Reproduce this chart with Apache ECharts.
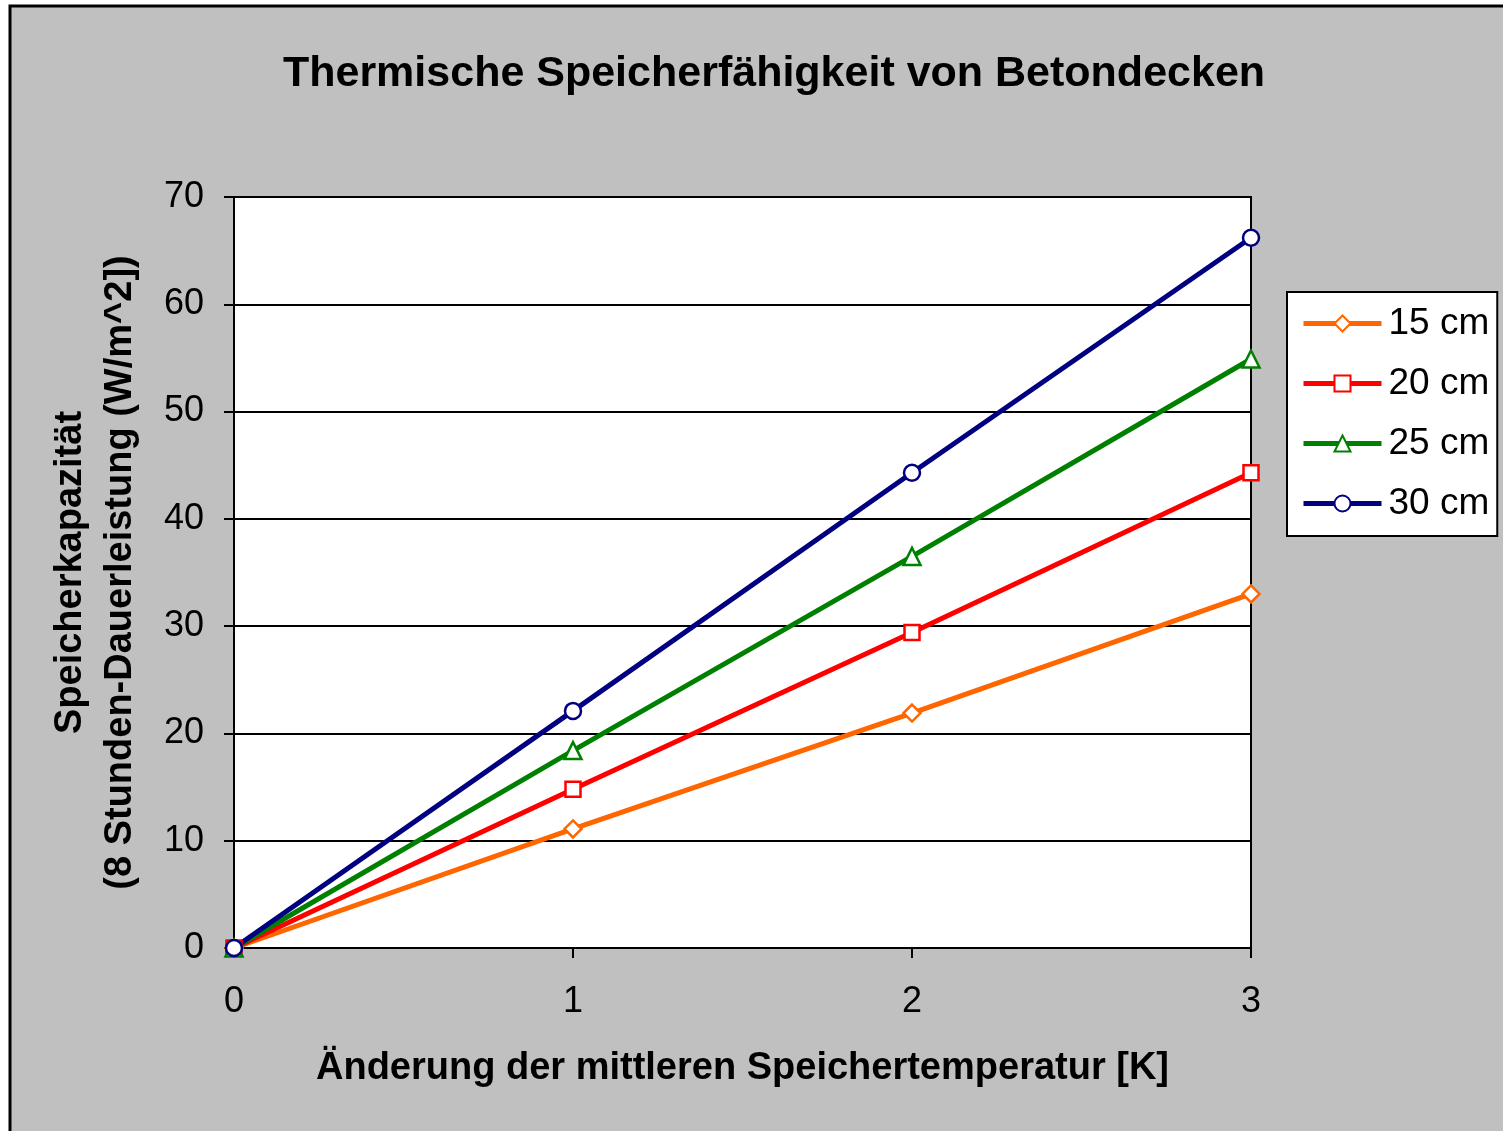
<!DOCTYPE html>
<html>
<head>
<meta charset="utf-8">
<script src="https://cdn.jsdelivr.net/npm/echarts@6/dist/echarts.min.js"></script>
<style>
  html, body { margin: 0; padding: 0; background: #fff; }
  #chart { width: 1503px; height: 1131px; }
</style>
</head>
<body>
<div id="chart"></div>
<script>
// Änderung der mittleren Speichertemperatur [K]
const deltaT = [0, 1, 2, 3]
// Speicherkapazität je Deckenstärke
const d15 = [0, 11.1, 21.9, 33.0]
const d20 = [0, 14.8, 29.4, 44.3]
const d25 = [0, 18.4, 36.5, 54.9]
const d30 = [0, 22.1, 44.3, 66.2]

const font = 'Liberation Sans, Arial, sans-serif'

function mkSeries(name, vals, color, symbol, size) {
  return {
    name: name,
    type: 'line',
    data: deltaT.map((x, i) => [x, vals[i]]),
    symbol: symbol,
    symbolSize: size,
    showAllSymbol: true,
    lineStyle: { color: color, width: 5 },
    itemStyle: { color: '#fff', borderColor: color, borderWidth: 2.5 },
    animation: false
  }
}

const chart = echarts.init(document.getElementById('chart'))
chart.setOption({
  backgroundColor: '#fff',
  graphic: [{
    type: 'rect',
    z: -10,
    shape: { x: 10, y: 6, width: 1500, height: 1130 },
    style: { fill: '#c0c0c0', stroke: '#000', lineWidth: 3 }
  }],
  title: {
    text: 'Thermische Speicherfähigkeit von Betondecken',
    left: 769,
    top: 48,
    textAlign: 'center',
    textStyle: { fontFamily: font, fontSize: 43, fontWeight: 'bold', color: '#000' }
  },
  grid: {
    left: 234, right: 252, top: 197, bottom: 183,
    show: true, backgroundColor: '#fff', borderColor: '#000', borderWidth: 2
  },
  legend: {
    orient: 'vertical',
    left: 1287,
    top: 292,
    width: 214,
    padding: [13, 8, 14, 14],
    itemGap: 23,
    itemWidth: 78,
    itemHeight: 20,
    backgroundColor: '#fff',
    borderColor: '#000',
    borderWidth: 2,
    borderRadius: 0,
    lineStyle: { width: 5 },
    textStyle: { fontFamily: font, fontSize: 37, color: '#000', padding: [0, 0, 0, 2] },
    data: ['15 cm', '20 cm', '25 cm', '30 cm']
  },
  xAxis: {
    type: 'value',
    min: 0, max: 3, interval: 1,
    name: 'Änderung der mittleren Speichertemperatur [K]',
    nameLocation: 'middle',
    nameGap: 102,
    nameTextStyle: { fontFamily: font, fontSize: 38, fontWeight: 'bold', color: '#000' },
    axisLine: { lineStyle: { color: '#000', width: 2 } },
    axisTick: { show: true, length: 10, lineStyle: { color: '#000', width: 2 } },
    axisLabel: { fontFamily: font, fontSize: 36, color: '#000', margin: 36 },
    splitLine: { show: false }
  },
  yAxis: {
    type: 'value',
    min: 0, max: 70, interval: 10,
    name: 'Speicherkapazität\n(8 Stunden-Dauerleistung (W/m^2])',
    nameLocation: 'middle',
    nameGap: 88,
    nameTextStyle: { fontFamily: font, fontSize: 38, fontWeight: 'bold', color: '#000', lineHeight: 50 },
    axisLine: { show: true, lineStyle: { color: '#000', width: 2 } },
    axisTick: { show: true, length: 10, lineStyle: { color: '#000', width: 2 } },
    axisLabel: { fontFamily: font, fontSize: 36, color: '#000', margin: 30 },
    splitLine: { show: true, lineStyle: { color: '#000', width: 2 } }
  },
  series: [
    mkSeries('15 cm', d15, '#ff6600', 'diamond', 17),
    mkSeries('20 cm', d20, '#ff0000', 'rect', 15),
    mkSeries('25 cm', d25, '#008000', 'triangle', 17),
    mkSeries('30 cm', d30, '#000080', 'circle', 16)
  ]
})
</script>
</body>
</html>
